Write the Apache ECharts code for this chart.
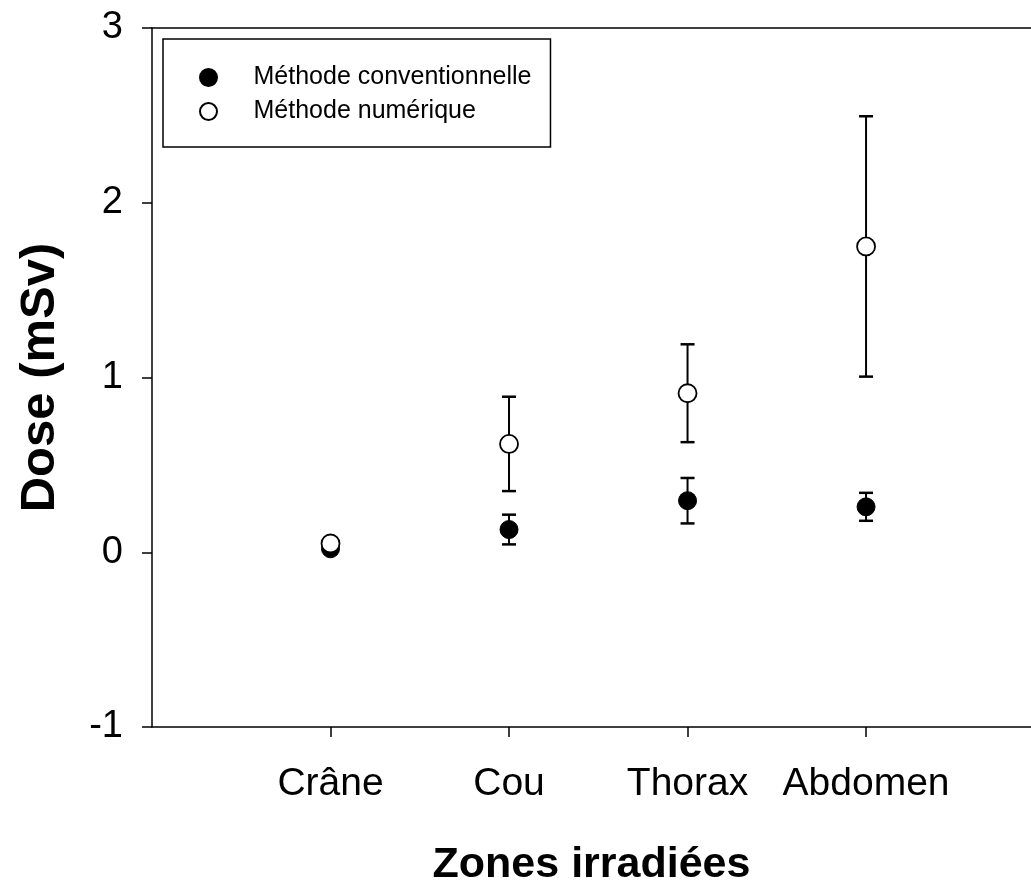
<!DOCTYPE html>
<html>
<head>
<meta charset="utf-8">
<script src="https://cdn.jsdelivr.net/npm/echarts@6/dist/echarts.min.js"></script>
<style>
  html, body { margin: 0; padding: 0; background: #fff; }
  #chart { width: 1031px; height: 888px; }
</style>
</head>
<body>
<div id="chart"></div>
<script>
const zones = ['Crâne', 'Cou', 'Thorax', 'Abdomen']
const zonePositions = [1, 2, 3, 4]
const conventionalMean = [0.02, 0.13, 0.295, 0.26]
const conventionalErr = [0, 0.085, 0.13, 0.08]
const numericMean = [0.05, 0.62, 0.91, 1.75]
const numericErr = [0, 0.27, 0.28, 0.745]
const yTicks = [-1, 0, 1, 2, 3]

const font = '"Liberation Sans", Arial, Helvetica, sans-serif'

function errorBarItem(params, api) {
  const x = api.value(0)
  const low = api.value(1)
  const high = api.value(2)
  if (high - low <= 0) return null
  const top = api.coord([x, high])
  const bottom = api.coord([x, low])
  const half = 7
  const style = { stroke: '#000', lineWidth: 2 }
  return {
    type: 'group',
    children: [
      { type: 'line', shape: { x1: top[0], y1: top[1], x2: bottom[0], y2: bottom[1] }, style },
      { type: 'line', shape: { x1: top[0] - half, y1: top[1], x2: top[0] + half, y2: top[1] }, style: { stroke: '#000', lineWidth: 2.5 } },
      { type: 'line', shape: { x1: bottom[0] - half, y1: bottom[1], x2: bottom[0] + half, y2: bottom[1] }, style: { stroke: '#000', lineWidth: 2.5 } },
    ],
  }
}

const errorData = (means, errs) =>
  means.map((m, i) => [zonePositions[i], m - errs[i], m + errs[i]])

const chart = echarts.init(document.getElementById('chart'), null, { renderer: 'canvas' })

chart.setOption({
  animation: false,
  backgroundColor: '#fff',
  textStyle: { fontFamily: font },
  grid: {
    left: 152,
    right: 0,
    top: 28,
    bottom: 161,
    containLabel: false,
    outerBoundsMode: 'none',
  },
  legend: {
    left: 163,
    top: 39,
    orient: 'vertical',
    data: ['Méthode conventionnelle', 'Méthode numérique'],
    backgroundColor: '#fff',
    borderColor: '#000',
    borderWidth: 1.5,
    borderRadius: 0,
    padding: [26, 19, 23, 36],
    itemWidth: 80,
    itemHeight: 17,
    itemGap: 9,
    textStyle: { fontFamily: font, fontSize: 25, color: '#000', lineHeight: 24 },
  },
  xAxis: [
    {
      type: 'value',
      min: 0,
      max: 4.924,
      interval: 1,
      name: 'Zones irradiées',
      nameLocation: 'middle',
      nameGap: 117,
      nameTextStyle: { fontFamily: font, fontSize: 43, fontWeight: 'bold', color: '#000' },
      splitLine: { show: false },
      axisLine: { show: true, onZero: false, lineStyle: { color: '#000', width: 1.5 } },
      axisTick: { show: true, customValues: zonePositions, length: 10, lineStyle: { color: '#000', width: 1.5 } },
      axisLabel: {
        customValues: zonePositions,
        formatter: (v) => zones[zonePositions.indexOf(Math.round(v))] || '',
        fontFamily: font,
        fontSize: 39,
        color: '#000',
        margin: 38,
      },
    },
    {
      type: 'value',
      position: 'top',
      min: 0,
      max: 4.924,
      axisLine: { show: true, onZero: false, lineStyle: { color: '#000', width: 1.5 } },
      axisTick: { show: false },
      axisLabel: { show: false },
      splitLine: { show: false },
    },
  ],
  yAxis: {
    type: 'value',
    min: -1,
    max: 3,
    interval: 1,
    name: 'Dose (mSv)',
    nameLocation: 'middle',
    nameRotate: 90,
    nameGap: 87,
    nameTextStyle: { fontFamily: font, fontSize: 49, fontWeight: 'bold', color: '#000' },
    splitLine: { show: false },
    axisLine: { show: true, onZero: false, lineStyle: { color: '#000', width: 1.5 } },
    axisTick: { show: true, length: 10, lineStyle: { color: '#000', width: 1.5 } },
    axisLabel: {
      customValues: yTicks,
      fontFamily: font,
      fontSize: 38,
      color: '#000',
      margin: 29,
    },
  },
  series: [
    {
      name: 'Conventional error',
      type: 'custom',
      renderItem: errorBarItem,
      data: errorData(conventionalMean, conventionalErr),
      z: 1,
      silent: true,
    },
    {
      name: 'Numeric error',
      type: 'custom',
      renderItem: errorBarItem,
      data: errorData(numericMean, numericErr),
      z: 1,
      silent: true,
    },
    {
      name: 'Méthode conventionnelle',
      type: 'scatter',
      symbol: 'circle',
      symbolSize: 18,
      data: conventionalMean.map((v, i) => [zonePositions[i], v]),
      itemStyle: { color: '#000', borderColor: '#000', borderWidth: 1, opacity: 1 },
      z: 3,
    },
    {
      name: 'Méthode numérique',
      type: 'scatter',
      symbol: 'circle',
      symbolSize: 18,
      data: numericMean.map((v, i) => [zonePositions[i], v]),
      itemStyle: { color: '#fff', borderColor: '#000', borderWidth: 1.8, opacity: 1 },
      z: 4,
    },
  ],
})
</script>
</body>
</html>
